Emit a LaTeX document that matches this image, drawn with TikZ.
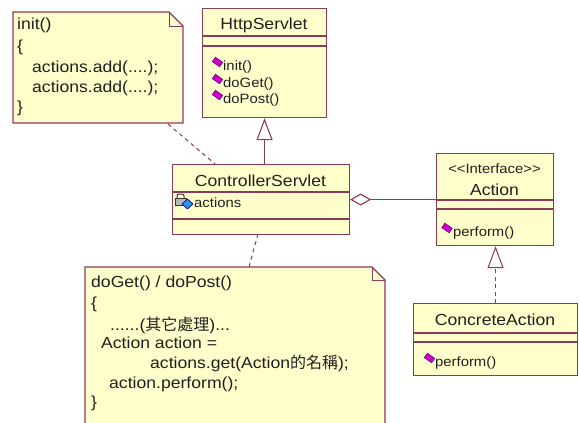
\documentclass[tikz,border=0pt]{standalone}
\usepackage{fontspec}
\setmainfont{Liberation Sans}[FakeStretch=1.1]
\newfontfamily\cjk{Noto Sans CJK TC}
\usetikzlibrary{arrows.meta}
\definecolor{umlfill}{HTML}{FFFFCC}
\definecolor{umlline}{HTML}{8C3A5A}
\definecolor{umltext}{HTML}{202020}
\definecolor{mthd}{HTML}{CC00CC}
\definecolor{mthdline}{HTML}{660066}
\definecolor{attrblue}{HTML}{2F8FEF}
\begin{document}
\begin{tikzpicture}[x=1pt,y=-1pt,
  box/.style={draw=umlline, fill=umlfill, line width=1.1pt, inner sep=0pt, anchor=north west},
  sep/.style={draw=umlline, line width=1.1pt},
  conn/.style={draw=umlline, line width=1.1pt},
  notebox/.style={draw=umlline, fill=umlfill, line width=1.1pt},
  dashconn/.style={draw=umlline, line width=1pt, dash pattern=on 4pt off 3.5pt},
  big/.style={font=\fontsize{16}{19}\selectfont, text=umltext, inner sep=0pt},
  small/.style={font=\fontsize{13.5}{16}\selectfont, text=umltext, inner sep=0pt},
  micon/.style={draw=mthdline, fill=mthd, line width=0.5pt, minimum width=9pt, minimum height=5.5pt, inner sep=0pt, rotate=-35},
  inh/.style={-{Triangle[open, fill=white, length=22pt, width=16pt]}},
  agg/.style={{Diamond[open, fill=white, length=21pt, width=12pt]}-}
]
\useasboundingbox (0,0) rectangle (579,423);

% ---------- note 1 ----------
\path[notebox] (13,12) -- (169,12) -- (183,26) -- (183,123) -- (13,123) -- cycle;
\draw[umlline, line width=1pt] (169,12) -- (169,26) -- (183,26);
\node[big, anchor=base west] (n1a) at (17,30) {init()};
\node[big, anchor=base west] (n1b) at (17,51) {\{};
\node[big, anchor=base west] (n1c) at (32,72) {actions.add(....);};
\node[big, anchor=base west] (n1d) at (32,92) {actions.add(....);};
\node[big, anchor=base west] (n1e) at (17,112) {\}};
\coordinate (n1link) at (168,124);

% ---------- note 2 ----------
\path[notebox] (85,267) -- (372,267) -- (385,280) -- (385,430) -- (85,430) -- cycle;
\draw[umlline, line width=1pt] (372,267) -- (372,280) -- (385,280);
\node[big, anchor=base west] (n2a) at (91,287) {doGet() / doPost()};
\node[big, anchor=base west] (n2b) at (91,308) {\{};
\node[big, anchor=base west] (n2c) at (110,330) {......(\cjk 其它處理\normalfont)...};
\node[big, anchor=base west] (n2d) at (101,348) {Action action =};
\node[big, anchor=base west] (n2e) at (150,368) {actions.get(Action\cjk 的名稱\normalfont);};
\node[big, anchor=base west] (n2f) at (109,388) {action.perform();};
\node[big, anchor=base west] (n2g) at (91,407) {\}};
\coordinate (n2link) at (249,267);

% ---------- HttpServlet ----------
\node[box, minimum width=124pt, minimum height=109pt] (http) at (202,8) {};
\draw[sep] (202,36) -- (326,36);
\draw[sep] (202,46) -- (326,46);
\node[big, anchor=base] (httpname) at (264,30) {HttpServlet};
\node[micon] (hi1) at (217.5,62) {};
\node[small, anchor=base west] (hm1) at (223,70) {init()};
\node[micon] (hi2) at (217.5,79) {};
\node[small, anchor=base west] (hm2) at (223,87) {doGet()};
\node[micon] (hi3) at (217.5,95) {};
\node[small, anchor=base west] (hm3) at (223,103) {doPost()};

% ---------- ControllerServlet ----------
\node[box, minimum width=177pt, minimum height=70pt] (cs) at (172,164) {};
\draw[sep] (172,192) -- (349,192);
\draw[sep] (172,219) -- (349,219);
\node[big, anchor=base] (csname) at (260.5,186) {ControllerServlet};
% attribute icon (lock + blue diamond)
\draw[gray!40!black, line width=1pt, rounded corners=2pt] (177,199) -- (177,194) -- (184,194) -- (184,199);
\node[draw=gray!40!black, fill=gray!55, line width=0.6pt, minimum width=11pt, minimum height=7pt, inner sep=0pt] (lockbody) at (180.5,202) {};
\path[draw=blue!50!black, fill=attrblue, line width=0.6pt] (182,204) -- (187.5,199) -- (193,204) -- (187.5,209) -- cycle;
\node[small, anchor=base west] (csattr) at (194,207) {actions};
\coordinate (cslinkN) at (215,164);
\coordinate (cslinkS) at (258,234);

% ---------- Action ----------
\node[box, minimum width=117pt, minimum height=92pt] (act) at (436,153) {};
\draw[sep] (436,200) -- (553,200);
\draw[sep] (436,209) -- (553,209);
\node[small, anchor=base] (actst) at (494.5,173) {<{}<Interface>{}>};
\node[big, anchor=base] (actname) at (494.5,195) {Action};
\node[micon] (ai1) at (447,228) {};
\node[small, anchor=base west] (am1) at (453,236) {perform()};

% ---------- ConcreteAction ----------
\node[box, minimum width=164pt, minimum height=72pt] (ca) at (413,303) {};
\draw[sep] (413,333) -- (577,333);
\draw[sep] (413,342) -- (577,342);
\node[big, anchor=base] (caname) at (495,325) {ConcreteAction};
\node[micon] (ci1) at (429.5,358) {};
\node[small, anchor=base west] (cm1) at (435,366) {perform()};

% ---------- connectors ----------
\draw[conn, inh] (cs.north -| http.south) -- (http.south);
\draw[conn, agg] (cs.east) -- (act.west);
\draw[dashconn, inh] (ca.north) -- (act.south -| ca.north);
\draw[dashconn] (n1link) -- (cslinkN);
\draw[dashconn] (cslinkS) -- (n2link);
\end{tikzpicture}
\end{document}
